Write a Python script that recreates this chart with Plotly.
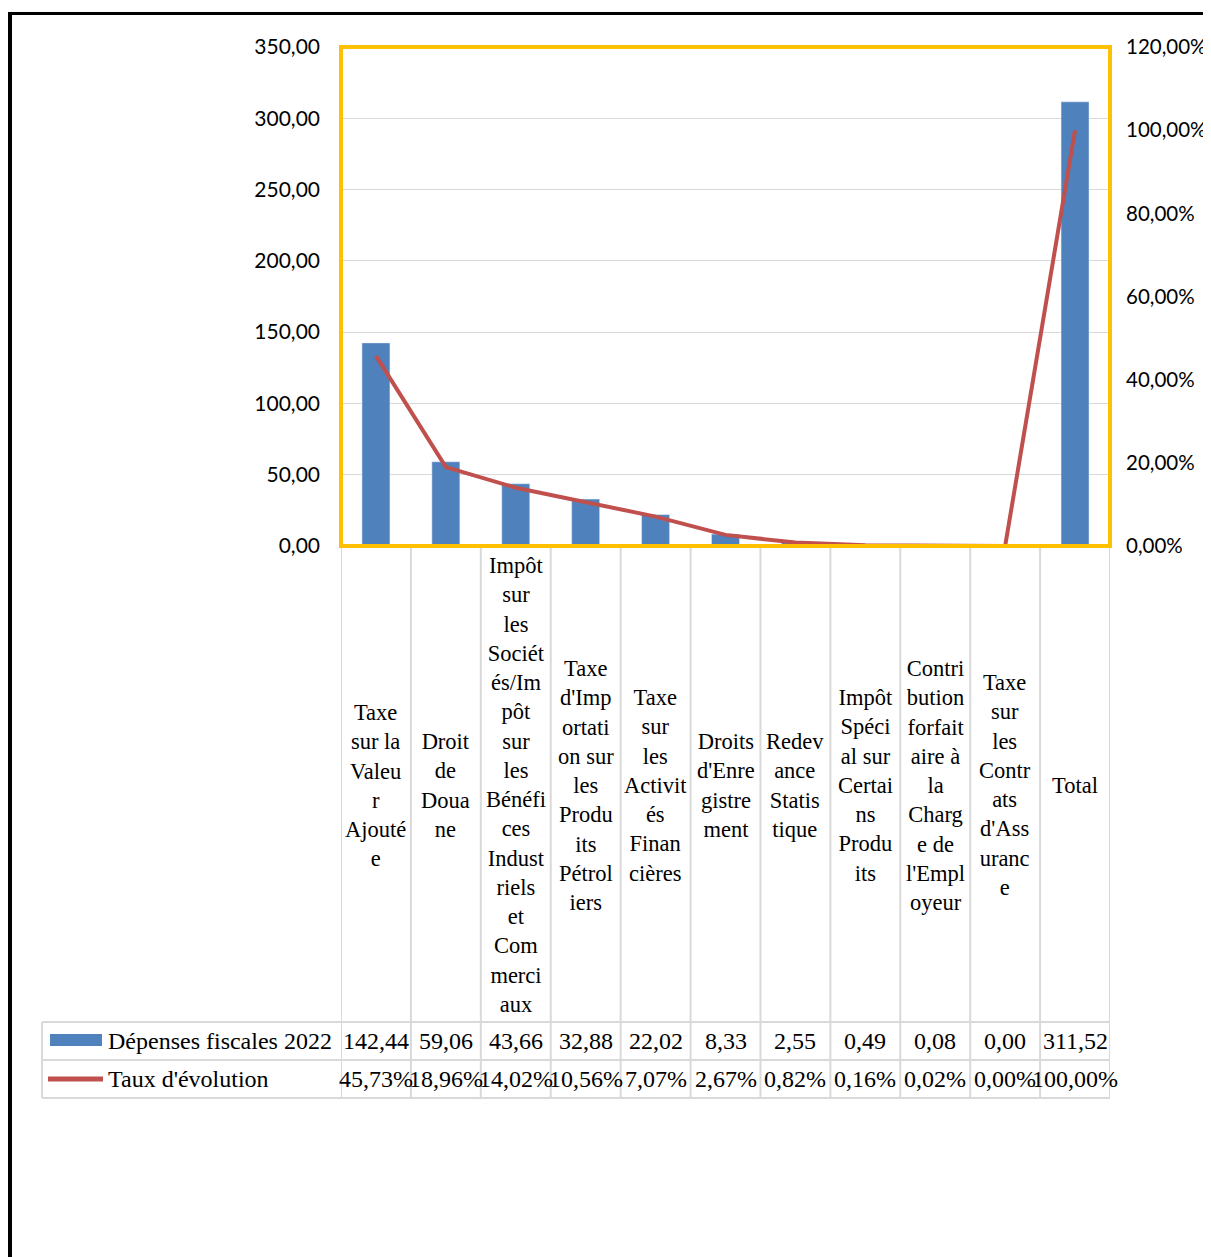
import plotly.graph_objects as go

# the page body adds an 8px margin, so the figure sits 8px in from the window corner
OFF = 8
W, H = 1211 - OFF, 1257 - OFF

categories = [
    "Taxe sur la Valeur Ajoutée",
    "Droit de Douane",
    "Impôt sur les Sociétés/Impôt sur les Bénéfices Industriels et Commerciaux",
    "Taxe d'Importation sur les Produits Pétroliers",
    "Taxe sur les Activités Financières",
    "Droits d'Enregistrement",
    "Redevance Statistique",
    "Impôt Spécial sur Certains Produits",
    "Contribution forfaitaire à la Charge de l'Employeur",
    "Taxe sur les Contrats d'Assurance",
    "Total",
]

# category labels as Excel wraps them inside the data table
header_labels = [
    "Taxe<br>sur la<br>Valeu<br>r<br>Ajouté<br>e",
    "Droit<br>de<br>Doua<br>ne",
    "Impôt<br>sur<br>les<br>Sociét<br>és/Im<br>pôt<br>sur<br>les<br>Bénéfi<br>ces<br>Indust<br>riels<br>et<br>Com<br>merci<br>aux",
    "Taxe<br>d'Imp<br>ortati<br>on sur<br>les<br>Produ<br>its<br>Pétrol<br>iers",
    "Taxe<br>sur<br>les<br>Activit<br>és<br>Finan<br>cières",
    "Droits<br>d'Enre<br>gistre<br>ment",
    "Redev<br>ance<br>Statis<br>tique",
    "Impôt<br>Spéci<br>al sur<br>Certai<br>ns<br>Produ<br>its",
    "Contri<br>bution<br>forfait<br>aire à<br>la<br>Charg<br>e de<br>l'Empl<br>oyeur",
    "Taxe<br>sur<br>les<br>Contr<br>ats<br>d'Ass<br>uranc<br>e",
    "Total",
]

depenses_2022 = [142.44, 59.06, 43.66, 32.88, 22.02, 8.33, 2.55, 0.49, 0.08, 0.00, 311.52]
taux_evolution = [45.73, 18.96, 14.02, 10.56, 7.07, 2.67, 0.82, 0.16, 0.02, 0.00, 100.00]

series_names = ["Dépenses fiscales 2022", "Taux d'évolution"]

BLUE = "#4F81BD"
RED = "#C0504D"
GOLD = "#FFC000"
GRID = "#D9D9D9"
SERIF = "Liberation Serif"
SANS = "Lato"


def px_x(px):
    return (px - OFF) / W


def px_y(py):
    return 1 - (py - OFF) / H


def fr(v, pct=False):
    s = f"{v:.2f}".replace(".", ",")
    return s + "%" if pct else s


fig = go.Figure()
fig.add_trace(
    go.Bar(x=categories, y=depenses_2022, name=series_names[0], marker_color=BLUE)
)
fig.add_trace(
    go.Scatter(
        x=categories,
        y=[t / 100 for t in taux_evolution],
        name=series_names[1],
        mode="lines",
        yaxis="y2",
        line=dict(color=RED, width=4),
    )
)

x_dom = [px_x(341), px_x(1110)]
y_dom = [px_y(546), px_y(47)]

fig.update_layout(
    width=W,
    height=H,
    margin=dict(l=0, r=0, t=0, b=0),
    paper_bgcolor="white",
    plot_bgcolor="white",
    showlegend=False,
    bargap=0.6,
    separators=", ",
    xaxis=dict(
        domain=x_dom,
        range=[-0.5, 10.5],
        showticklabels=False,
        showgrid=False,
        zeroline=False,
        showline=False,
        automargin=False,
    ),
    yaxis=dict(
        domain=y_dom,
        range=[0, 350],
        dtick=50,
        tickformat=".2f",
        gridcolor=GRID,
        gridwidth=1,
        zeroline=False,
        showline=False,
        automargin=False,
        ticklabelstandoff=20,
        tickfont=dict(family=SANS, size=21, color="black"),
    ),
    yaxis2=dict(
        overlaying="y",
        side="right",
        range=[0, 1.2],
        dtick=0.2,
        tickformat=".2%",
        showgrid=False,
        zeroline=False,
        showline=False,
        automargin=False,
        ticklabelstandoff=15,
        tickfont=dict(family=SANS, size=20.5, color="black"),
    ),
)

shapes = []
# plot area border
shapes.append(dict(type="rect", xref="paper", yref="paper", x0=x_dom[0], x1=x_dom[1],
                   y0=y_dom[0], y1=y_dom[1], line=dict(color=GOLD, width=4)))
# data table grid
for py in (1022, 1060, 1098):
    shapes.append(dict(type="line", xref="paper", yref="paper", x0=px_x(42), x1=px_x(1110),
                       y0=px_y(py), y1=px_y(py), line=dict(color=GRID, width=2)))
shapes.append(dict(type="line", xref="paper", yref="paper", x0=px_x(42), x1=px_x(42),
                   y0=px_y(1022), y1=px_y(1098), line=dict(color=GRID, width=2)))
for k in range(len(categories) + 1):
    shapes.append(dict(type="line", xref="x", yref="paper", x0=k - 0.5, x1=k - 0.5,
                       y0=px_y(548), y1=px_y(1098), line=dict(color=GRID, width=2)))
# legend keys in table
shapes.append(dict(type="rect", xref="paper", yref="paper", x0=px_x(50), x1=px_x(102),
                   y0=px_y(1046), y1=px_y(1034), fillcolor=BLUE, line=dict(width=0)))
shapes.append(dict(type="line", xref="paper", yref="paper", x0=px_x(48), x1=px_x(103),
                   y0=px_y(1079), y1=px_y(1079), line=dict(color=RED, width=5)))
# outer frame (black, top and left)
shapes.append(dict(type="line", xref="paper", yref="paper", x0=px_x(8), x1=1,
                   y0=px_y(13.5), y1=px_y(13.5), line=dict(color="black", width=3)))
shapes.append(dict(type="line", xref="paper", yref="paper", x0=px_x(10), x1=px_x(10),
                   y0=px_y(12), y1=0, line=dict(color="black", width=4)))

annotations = []
tfont = dict(family=SERIF, size=24, color="black")
for i, cat in enumerate(categories):
    annotations.append(dict(x=cat, xref="x", y=px_y(785), yref="paper", text=header_labels[i],
                            showarrow=False, yanchor="middle", align="center",
                            font=dict(family=SERIF, size=22.5, color="black")))
    annotations.append(dict(x=cat, xref="x", y=px_y(1041), yref="paper", text=fr(depenses_2022[i]),
                            showarrow=False, yanchor="middle", font=tfont))
    annotations.append(dict(x=cat, xref="x", y=px_y(1079), yref="paper",
                            text=fr(taux_evolution[i], pct=True),
                            showarrow=False, yanchor="middle", font=tfont))
annotations.append(dict(x=px_x(106), xref="paper", y=px_y(1041), yref="paper", text=series_names[0],
                        showarrow=False, xanchor="left", yanchor="middle", font=tfont))
annotations.append(dict(x=px_x(106), xref="paper", y=px_y(1079), yref="paper", text=series_names[1],
                        showarrow=False, xanchor="left", yanchor="middle", font=tfont))

fig.update_layout(shapes=shapes, annotations=annotations)

fig.write_html("out.html")
